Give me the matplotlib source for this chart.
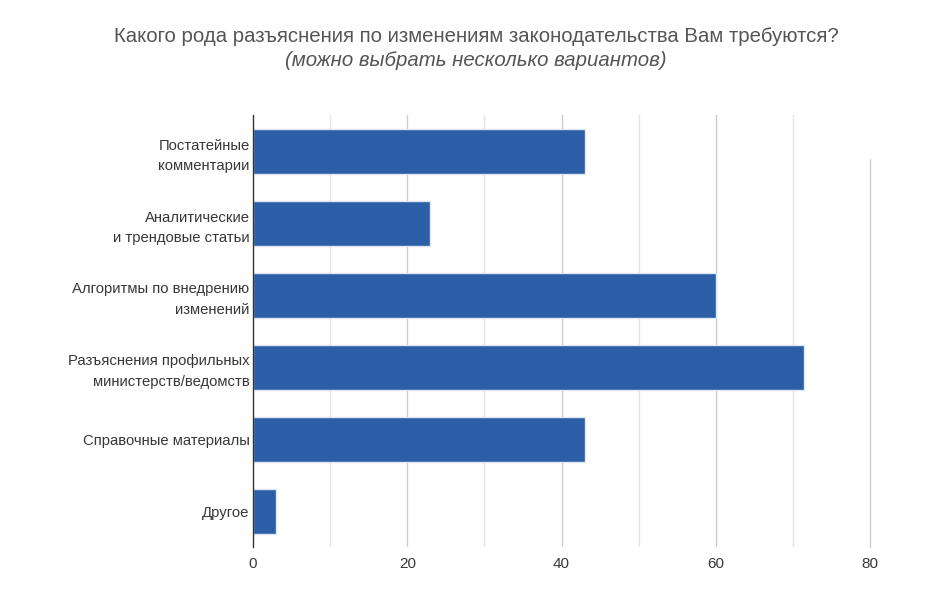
import matplotlib
matplotlib.use("Agg")
import matplotlib.pyplot as plt

categories = ["Постатейные\nкомментарии",
              "Аналитические\nи трендовые статьи",
              "Алгоритмы по внедрению\nизменений",
              "Разъяснения профильных\nминистерств/ведомств",
              "Справочные материалы",
              "Другое"]
values = [43, 23, 60, 71.5, 43, 3]
xticks = [0, 20, 40, 60, 80]
minor_ticks = [10, 30, 50, 70]
title = "Какого рода разъяснения по изменениям законодательства Вам требуются?"
subtitle = "(можно выбрать несколько вариантов)"

plt.rcParams['font.family'] = ['Liberation Sans', 'DejaVu Sans']

fig = plt.figure(figsize=(9.51, 6.03), dpi=100)
ax = fig.add_axes([253/951, 56/603, 617/951, 432/603])

ypos = list(range(len(categories)))
ax.barh(ypos, values, height=0.625, color="#2c5ea8", edgecolor="#dfe6f1",
        linewidth=1, zorder=3)
ax.set_ylim(len(categories) - 0.5, -0.5)
ax.set_xlim(0, 80)

for t in minor_ticks:
    ax.axvline(t, color="#e4e4e4", linewidth=1, zorder=1)
for t in xticks[1:-1]:
    ax.axvline(t, color="#cccccc", linewidth=1, zorder=1)
ax.axvline(80, ymin=0, ymax=(547-159)/432, color="#cccccc", linewidth=1, zorder=1, clip_on=False)

ax.set_xticks(xticks)
ax.set_xticklabels([str(t) for t in xticks])
ax.set_yticks(ypos)
ax.set_yticklabels(categories, linespacing=1.62)
ax.tick_params(axis='both', length=0, labelcolor="#383838")
ax.tick_params(axis='y', pad=2.5, labelsize=10.7)
ax.tick_params(axis='x', pad=7, labelsize=11)

for s in ["top", "right", "bottom"]:
    ax.spines[s].set_visible(False)
ax.spines["left"].set_color("#333333")
ax.spines["left"].set_linewidth(1)
ax.spines["left"].set_zorder(4)

fig.text(476/951, 1 - 36.5/603, title, ha="center", va="center",
         fontsize=14.7, color="#555555")
fig.text(476/951, 1 - 61/603, subtitle, ha="center", va="center",
         fontsize=14.7, color="#555555", style="italic")

fig.savefig("out.png", dpi=100)
